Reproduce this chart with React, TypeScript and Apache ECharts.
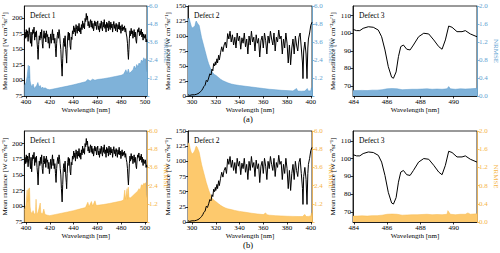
import React, { useEffect, useRef } from "react";
import * as echarts from "echarts";

// ---------- DATA ----------
const PANEL_TITLES = ["Defect 1", "Defect 2", "Defect 3"];
const ROW_LABELS = ["(a)", "(b)"];

const X_TICKS_D1 = [400, 420, 440, 460, 480, 500];
const X_TICKS_D2 = [300, 320, 340, 360, 380, 400];
const X_TICKS_D3 = [484, 486, 488, 490];
const Y_TICKS_D1 = [75, 100, 125, 150, 175, 200];
const Y_TICKS_D2 = [0, 25, 50, 75, 100, 125, 150];
const Y_TICKS_D3 = [70, 80, 90, 100, 110];
const NRMSE_TICKS_WIDE = [0, 1.2, 2.4, 3.6, 4.8, 6.0];
const NRMSE_LABELS_WIDE = [1.2, 2.4, 3.6, 4.8, 6.0];
const NRMSE_TICKS_NARROW = [0, 0.4, 0.8, 1.2, 1.6, 2.0];

// Mean radiance, Defect 1 [nm, value]
const RADIANCE_D1: [number, number][] = [
  [398.7,166],[399.3,178],[399.8,168],[400.3,182],[400.8,170],[401.3,180],[401.8,163],[402.3,176],[402.8,185],[403.3,172],
  [403.8,160],[404.3,178],[404.8,155],[405.3,172],[405.8,182],[406.3,176],[406.8,186],[407.3,165],[407.8,178],[408.3,170],
  [408.8,180],[409.3,162],[409.8,150],[410.2,134],[410.7,158],[411.2,172],[411.7,165],[412.2,178],[412.7,168],[413.2,182],
  [413.7,160],[414.2,152],[414.7,170],[415.2,180],[415.7,168],[416.2,176],[416.7,162],[417.2,180],[417.7,170],[418.2,174],
  [418.7,160],[419.2,170],[419.7,152],[420.3,165],[420.8,175],[421.3,160],[421.8,172],[422.3,182],[422.8,165],[423.3,175],
  [423.8,160],[424.3,168],[424.8,152],[425.3,138],[425.8,160],[426.3,172],[426.8,178],[427.3,168],[427.8,182],[428.3,175],
  [428.8,160],[429.3,150],[429.8,128],[430.4,107],[430.9,135],[431.4,160],[431.9,168],[432.4,155],[432.9,172],[433.4,150],
  [433.9,138],[434.2,128],[434.6,152],[435.1,170],[435.6,178],[436.1,165],[436.6,176],[437.1,156],[437.6,150],[438.1,170],
  [438.6,166],[439.1,180],[439.6,175],[440.1,188],[440.6,178],[441.1,185],[441.6,172],[442.1,190],[442.6,182],[443.1,176],
  [443.6,188],[444.1,180],[444.6,192],[445.1,178],[445.6,185],[446.1,175],[446.6,190],[447.1,182],[447.6,196],[448.1,185],
  [448.7,192],[449.2,183],[449.7,200],[450.2,195],[450.7,208],[451.2,198],[451.7,204],[452.2,188],[452.7,195],[453.2,185],
  [453.7,192],[454.3,198],[454.8,186],[455.3,196],[455.8,184],[456.3,192],[456.8,180],[457.3,187],[457.8,196],[458.3,188],
  [458.8,194],[459.3,182],[459.8,190],[460.3,196],[460.8,182],[461.3,188],[461.8,178],[462.3,192],[462.8,184],[463.3,196],
  [463.8,186],[464.3,180],[464.8,194],[465.3,186],[465.8,198],[466.3,184],[466.8,190],[467.3,178],[467.8,194],[468.3,185],
  [468.8,192],[469.3,180],[469.8,196],[470.3,186],[470.8,182],[471.3,194],[471.8,185],[472.3,191],[472.8,178],[473.3,188],
  [473.8,195],[474.3,184],[474.8,190],[475.3,180],[475.8,192],[476.3,186],[476.8,178],[477.3,190],[477.8,183],[478.3,194],
  [478.8,182],[479.3,188],[479.8,176],[480.3,185],[480.8,190],[481.3,180],[481.8,186],[482.3,182],[482.8,188],[483.3,178],
  [483.8,184],[484.3,175],[484.8,170],[485.3,160],[485.7,145],[486.1,134],[486.5,150],[486.9,168],[487.4,180],[487.9,172],
  [488.4,184],[488.9,175],[489.4,180],[489.9,168],[490.4,176],[490.9,182],[491.4,170],[491.9,178],[492.4,165],[492.9,160],
  [493.4,175],[493.9,182],[494.4,178],[494.9,185],[495.4,172],[495.9,180],[496.4,174],[496.9,183],[497.4,170],[497.9,178],
  [498.4,165],[498.9,175],[499.4,172],[499.9,168],[500.4,174],[500.9,162],[501.4,166],[501.7,162],
];

// Mean radiance, Defect 2
const RADIANCE_D2: [number, number][] = [
  [296.6,2],[298,1],[300,2],[302,2],[304,3],[305,4],[306,5],[307,7],[308,9],[309,12],
  [310,16],[311,18],[312,26],[313,24],[314,30],[315,37],[316,35],[316.8,45],[317.5,42],[318.2,54],
  [319,50],[319.6,57],[320,52],[321,62],[321.5,55],[322.4,68],[323,60],[324,72],[325,82],[326,74],
  [327,85],[328,90],[329,80],[330,104],[331,95],[332,108],[333,90],[334,102],[335,85],[336,98],
  [337,80],[338,105],[339,92],[340,100],[341,78],[342,97],[343,88],[344,105],[345,82],[346,95],
  [347,70],[348,100],[349,85],[350,108],[351,90],[352,98],[353,75],[354,102],[355,88],[356,96],
  [357,65],[358,92],[359,100],[360,80],[361,105],[362,92],[363,70],[364,100],[365,88],[366,108],
  [367,95],[368,85],[369,105],[370,75],[371,98],[372,90],[373,110],[374,95],[375,100],[376,70],
  [377,95],[378,80],[379,105],[380,88],[381,55],[382,85],[383,52],[384,80],[385,95],[386,70],
  [387,100],[388,85],[389,75],[390,98],[391,105],[392,80],[393,55],[393.4,29],[394,75],[395,90],
  [396,70],[396.8,29],[397.5,80],[398,95],[399,105],[400,118],[401,123],
];

// Mean radiance, Defect 3
const RADIANCE_D3: [number, number][] = [
  [483.95,102.2],[484.16,101.5],[484.36,101.5],[484.56,102.8],[484.87,103.7],[485.17,103.4],[485.47,101.8],[485.67,98],
  [485.87,90.5],[486.07,81],[486.27,75],[486.38,74.4],[486.54,78],[486.68,86.7],[486.82,92.4],[486.98,93.3],
  [487.18,90.9],[487.38,90.5],[487.58,93.3],[487.89,98],[488.2,100],[488.5,99.6],[488.8,96.2],[489.1,92.4],
  [489.3,90.9],[489.5,96.2],[489.7,104.1],[489.9,103.4],[490.2,100.9],[490.5,100.9],[490.7,101.5],[491.0,99.6],
  [491.4,98],
];

// NRMSE (a)
const NRMSE_A_D1: [number, number][] = [
  [398.7,0.7],[400,0.9],[401,1.3],[402,2.05],[402.5,1.2],[403,2.0],[403.5,1.0],[404,0.8],[405,0.6],[406,0.8],
  [407,0.5],[408,0.6],[409,0.7],[410,0.9],[411,0.6],[412,0.7],[413,0.5],[414,0.6],[415,0.5],[416,0.55],
  [418,0.45],[420,0.42],[422,0.45],[425,0.5],[430,0.58],[435,0.66],[440,0.75],[445,0.85],[450,0.95],[452,1.1],
  [454,1.0],[456,1.12],[458,1.05],[460,1.1],[465,1.15],[470,1.22],[475,1.3],[480,1.38],[482,1.45],[484,1.75],
  [485,1.5],[486,1.8],[487,1.5],[488,1.6],[490,1.75],[491,2.0],[492,1.8],[493,2.1],[494,1.95],[495,2.2],
  [496,2.1],[497,2.4],[498,2.3],[499,2.55],[500,2.4],[500.8,2.5],[501.2,1.8],[501.7,1.6],
];
const NRMSE_A_D2: [number, number][] = [
  [296.6,5.1],[297.5,5.2],[298.5,4.9],[299.5,4.6],[300.5,4.55],[301.5,4.6],[302.5,4.7],[303,4.9],[303.5,5.0],[304.2,4.9],
  [305,4.8],[306,4.7],[307,4.3],[308,3.9],[309,3.6],[310,3.3],[311,3.0],[312,2.7],[313,2.4],[314,2.15],
  [315,1.95],[316,1.75],[317,1.6],[318,1.5],[319,1.42],[320,1.38],[322,1.25],[324,1.12],[326,1.02],[328,0.95],
  [330,0.88],[333,0.8],[336,0.75],[340,0.7],[345,0.65],[350,0.6],[355,0.55],[360,0.5],[365,0.45],[370,0.42],
  [375,0.38],[380,0.36],[385,0.34],[388,0.5],[389,0.33],[392,0.32],[395,0.33],[397,0.5],[398,0.33],[400,0.35],
  [400.5,0.55],[401,0.3],
];
const NRMSE_A_D3: [number, number][] = [
  [483.95,0.12],[484.2,0.12],[484.5,0.125],[484.8,0.12],[485.1,0.13],[485.4,0.13],[485.7,0.14],[486.0,0.16],
  [486.3,0.165],[486.6,0.16],[486.9,0.14],[487.2,0.145],[487.5,0.15],[487.8,0.15],[488.1,0.155],[488.4,0.16],
  [488.7,0.15],[489.0,0.155],[489.3,0.15],[489.6,0.16],[489.7,0.21],[489.8,0.16],[490.1,0.15],[490.4,0.16],
  [490.7,0.155],[491.0,0.16],[491.4,0.17],
];

// NRMSE (b)
const NRMSE_B_D1: [number, number][] = [
  [398.7,0.8],[400,1.1],[401,2.1],[401.5,1.3],[402,2.2],[402.5,1.4],[403,2.25],[403.5,1.0],[404,0.7],[405,0.55],
  [406,0.75],[407,0.5],[408,0.6],[408.5,1.5],[409,0.55],[410,0.6],[411,0.9],[412,1.25],[412.5,0.6],[414,0.55],
  [415,0.85],[416,0.5],[418,0.45],[420,0.42],[425,0.5],[430,0.58],[435,0.66],[440,0.75],[445,0.85],[450,0.95],
  [452,1.3],[453,1.0],[455,1.35],[456,1.05],[458,1.4],[459,1.1],[460,1.1],[465,1.15],[470,1.22],[475,1.3],
  [480,1.38],[482,1.45],[483,2.1],[483.5,1.5],[485,2.2],[485.5,1.5],[486,2.3],[486.5,1.6],[488,1.6],[490,1.75],
  [492,1.9],[494,2.05],[495,2.2],[496,2.1],[497,2.45],[498,2.4],[499,2.55],[500,2.5],[500.8,2.6],[501.2,1.8],
  [501.7,1.6],
];
const NRMSE_B_D2: [number, number][] = [
  [296.6,5.2],[297.5,5.2],[298.5,4.8],[299.5,4.55],[300.5,4.5],[301.5,4.6],[302.5,4.75],[303,4.9],[303.5,5.0],[304.2,4.95],
  [305,4.8],[306,4.6],[307,4.2],[308,3.8],[309,3.5],[310,3.2],[311,2.9],[312,2.6],[313,2.35],[314,2.1],
  [315,1.9],[316,1.7],[317,1.55],[318,1.48],[319,1.4],[320,1.35],[322,1.22],[324,1.1],[326,1.0],[328,0.93],
  [330,0.87],[333,0.82],[336,0.76],[340,0.7],[345,0.64],[350,0.58],[355,0.53],[360,0.49],[362,0.6],[363,0.48],
  [365,0.45],[370,0.42],[375,0.4],[380,0.38],[385,0.37],[390,0.36],[393,0.36],[395,0.5],[396,0.36],[398,0.37],
  [400,0.4],[400.5,0.6],[401,0.35],
];
const NRMSE_B_D3: [number, number][] = [
  [483.95,0.13],[484.2,0.13],[484.5,0.135],[484.8,0.13],[485.1,0.14],[485.4,0.14],[485.7,0.15],[486.0,0.17],
  [486.3,0.175],[486.6,0.17],[486.9,0.15],[487.2,0.155],[487.5,0.16],[487.8,0.16],[488.1,0.165],[488.4,0.17],
  [488.7,0.16],[489.0,0.165],[489.3,0.16],[489.6,0.17],[489.65,0.25],[489.8,0.17],[490.1,0.16],[490.4,0.17],
  [490.7,0.17],[490.85,0.2],[491.0,0.17],[491.4,0.18],
];

// ---------- LAYOUT / STYLE ----------
const FONT = "Liberation Serif";
const BLUE_FILL = "#7fb2d9";
const BLUE_EDGE = "#5b9bcc";
const BLUE_AXIS = "#5fa3d2";
const ORANGE_FILL = "#fdc96d";
const ORANGE_EDGE = "#f7b84a";
const ORANGE_AXIS = "#f5b54a";

const COL_LEFT = [24, 188, 353];
const COL_WIDTH = [123, 124, 124];
const ROW_TOP = [6, 131];
const ROW_HEIGHT = [90, 91];

const PANELS = [
  { xMin: 398.7, xMax: 501.7, xTicks: X_TICKS_D1, yMin: 75, yMax: 220, yTicks: Y_TICKS_D1, rMax: 6, rTicks: NRMSE_TICKS_WIDE, rLabels: NRMSE_LABELS_WIDE, rad: RADIANCE_D1 },
  { xMin: 296.6, xMax: 401, xTicks: X_TICKS_D2, yMin: 0, yMax: 150, yTicks: Y_TICKS_D2, rMax: 6, rTicks: NRMSE_TICKS_WIDE, rLabels: NRMSE_LABELS_WIDE, rad: RADIANCE_D2 },
  { xMin: 483.95, xMax: 491.4, xTicks: X_TICKS_D3, yMin: 64.3, yMax: 115.5, yTicks: Y_TICKS_D3, rMax: 2, rTicks: NRMSE_TICKS_NARROW, rLabels: NRMSE_TICKS_NARROW, rad: RADIANCE_D3 },
];
const NRMSE_ROWS = [
  [NRMSE_A_D1, NRMSE_A_D2, NRMSE_A_D3],
  [NRMSE_B_D1, NRMSE_B_D2, NRMSE_B_D3],
];

function buildOption() {
  const grid: any[] = [];
  const xAxis: any[] = [];
  const yAxis: any[] = [];
  const series: any[] = [];
  const graphic: any[] = [];

  for (let r = 0; r < 2; r++) {
    const accent = r === 0 ? BLUE_AXIS : ORANGE_AXIS;
    const fill = r === 0 ? BLUE_FILL : ORANGE_FILL;
    const edge = r === 0 ? BLUE_EDGE : ORANGE_EDGE;
    for (let c = 0; c < 3; c++) {
      const p = PANELS[c];
      const g = r * 3 + c;
      grid.push({
        left: COL_LEFT[c], top: ROW_TOP[r], width: COL_WIDTH[c], height: ROW_HEIGHT[r],
        show: true, borderColor: "#000", borderWidth: 0.8, backgroundColor: "transparent",
      });
      xAxis.push({
        type: "value", gridIndex: g, min: p.xMin, max: p.xMax,
        axisLine: { show: true, onZero: false, lineStyle: { color: "#000", width: 0.8 } },
        axisTick: { show: true, length: 2.5, customValues: p.xTicks, lineStyle: { color: "#000", width: 0.8 } },
        axisLabel: { customValues: p.xTicks, fontSize: 7, color: "#000", margin: 2, fontFamily: FONT },
        splitLine: { show: false },
        name: "Wavelength [nm]", nameLocation: "middle", nameGap: 10,
        nameTextStyle: { fontSize: 7, color: "#000", fontFamily: FONT },
      });
      yAxis.push({
        type: "value", gridIndex: g, position: "left", min: p.yMin, max: p.yMax,
        axisLine: { show: true, onZero: false, lineStyle: { color: "#000", width: 0.8 } },
        axisTick: { show: true, length: 2.5, customValues: p.yTicks, lineStyle: { color: "#000", width: 0.8 } },
        axisLabel: { customValues: p.yTicks, fontSize: 7, color: "#000", margin: 2, fontFamily: FONT },
        splitLine: { show: false },
        name: "Mean radiance [W cm\u207B\u00B2sr\u207B\u00B9]", nameLocation: "middle", nameGap: 13,
        nameTextStyle: { fontSize: 7, color: "#000", fontFamily: FONT },
      });
      yAxis.push({
        type: "value", gridIndex: g, position: "right", min: 0, max: p.rMax,
        axisLine: { show: true, onZero: false, lineStyle: { color: accent, width: 0.8 } },
        axisTick: { show: true, length: 2.5, customValues: p.rTicks, lineStyle: { color: accent, width: 0.8 } },
        axisLabel: { customValues: p.rLabels, fontSize: 7, color: accent, margin: 2, fontFamily: FONT,
          formatter: (v: number) => v.toFixed(1) },
        splitLine: { show: false },
        name: "NRMSE", nameLocation: "middle", nameGap: 15, nameRotate: -90,
        nameTextStyle: { fontSize: 7, color: accent, fontFamily: FONT },
      });
      series.push({
        type: "line", xAxisIndex: g, yAxisIndex: g * 2 + 1, data: NRMSE_ROWS[r][c],
        showSymbol: false, z: 1, lineStyle: { color: edge, width: 0.5 },
        areaStyle: { color: fill, opacity: 1 },
      });
      series.push({
        type: "line", xAxisIndex: g, yAxisIndex: g * 2, data: p.rad,
        showSymbol: false, z: 3, lineStyle: { color: "#000", width: 1 },
      });
      graphic.push({
        type: "text", left: COL_LEFT[c] + 6, top: ROW_TOP[r] + 5,
        style: { text: PANEL_TITLES[c], fontSize: 7.5, fill: "#000", fontFamily: FONT },
      });
    }
    graphic.push({
      type: "text", x: 248, y: r === 0 ? 119 : 245,
      style: { text: ROW_LABELS[r], fontSize: 8.5, fill: "#000", fontFamily: FONT, align: "center", verticalAlign: "middle" },
    });
  }
  return {
    animation: false,
    textStyle: { fontFamily: FONT },
    grid, xAxis, yAxis, series, graphic,
  };
}

export default function App() {
  const ref = useRef<HTMLDivElement>(null);
  useEffect(() => {
    if (!ref.current) return;
    const chart = echarts.init(ref.current, undefined, { renderer: "svg" });
    chart.setOption(buildOption() as any);
    return () => chart.dispose();
  }, []);
  return <div ref={ref} style={{ position: "absolute", left: 0, top: 0, width: 500, height: 253, background: "#fff" }} />;
}
